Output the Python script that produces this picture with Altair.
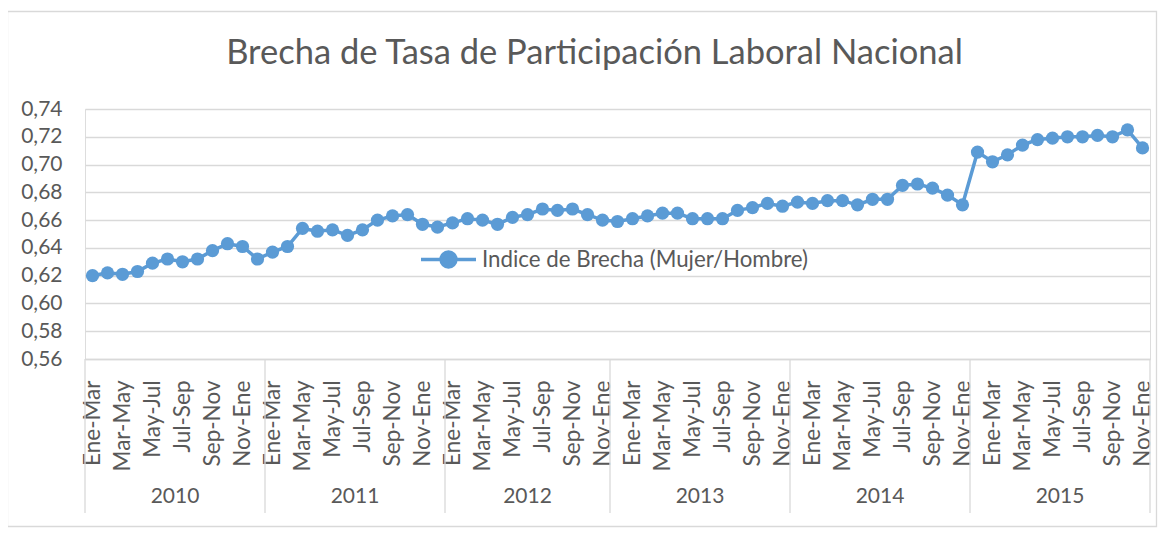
import altair as alt
import pandas as pd

# ---------------- data ----------------
anios = ["2010", "2011", "2012", "2013", "2014", "2015"]
periodos_2010 = ["Ene-Mar", "Feb-Abr", "Mar-May", "Abr-Jun", "May-Jul", "Jun-Ago",
                 "Jul-Sep", "Ago-Oct", "Sep-Nov", "Oct-Dic", "Nov-Ene", "Dic-Feb"]
periodos_2011 = ["Ene-Mar", "Feb-Abr", "Mar-May", "Abr-Jun", "May-Jul", "Jun-Ago",
                 "Jul-Sep", "Ago-Oct", "Sep-Nov", "Oct-Dic", "Nov-Ene", "Dic-Feb"]
periodos_2012 = ["Ene-Mar", "Feb-Abr", "Mar-May", "Abr-Jun", "May-Jul", "Jun-Ago",
                 "Jul-Sep", "Ago-Oct", "Sep-Nov", "Oct-Dic", "Nov-Ene"]
periodos_2013 = ["Dic-Feb", "Ene-Mar", "Feb-Abr", "Mar-May", "Abr-Jun", "May-Jul",
                 "Jun-Ago", "Jul-Sep", "Ago-Oct", "Sep-Nov", "Oct-Dic", "Nov-Ene"]
periodos_2014 = ["Dic-Feb", "Ene-Mar", "Feb-Abr", "Mar-May", "Abr-Jun", "May-Jul",
                 "Jun-Ago", "Jul-Sep", "Ago-Oct", "Sep-Nov", "Oct-Dic", "Nov-Ene"]
periodos_2015 = ["Dic-Feb", "Ene-Mar", "Feb-Abr", "Mar-May", "Abr-Jun", "May-Jul",
                 "Jun-Ago", "Jul-Sep", "Ago-Oct", "Sep-Nov", "Oct-Dic", "Nov-Ene"]

indice_2010 = [0.620, 0.622, 0.621, 0.623, 0.629, 0.632, 0.630, 0.632, 0.638, 0.643, 0.641, 0.632]
indice_2011 = [0.637, 0.641, 0.654, 0.652, 0.653, 0.649, 0.653, 0.660, 0.663, 0.664, 0.657, 0.655]
indice_2012 = [0.658, 0.661, 0.660, 0.657, 0.662, 0.664, 0.668, 0.667, 0.668, 0.664, 0.660]
indice_2013 = [0.659, 0.661, 0.663, 0.665, 0.665, 0.661, 0.661, 0.661, 0.667, 0.669, 0.672, 0.670]
indice_2014 = [0.673, 0.672, 0.674, 0.674, 0.671, 0.675, 0.675, 0.685, 0.686, 0.683, 0.678, 0.671]
indice_2015 = [0.709, 0.702, 0.707, 0.714, 0.718, 0.719, 0.720, 0.720, 0.721, 0.720, 0.725, 0.712]

y_ticks = [0.56, 0.58, 0.60, 0.62, 0.64, 0.66, 0.68, 0.70, 0.72, 0.74]
serie = "Indice de Brecha (Mujer/Hombre)"
titulo = "Brecha de Tasa de Participación Laboral Nacional"

# ---------------- tables ----------------
periodos = [periodos_2010, periodos_2011, periodos_2012, periodos_2013, periodos_2014, periodos_2015]
indices = [indice_2010, indice_2011, indice_2012, indice_2013, indice_2014, indice_2015]

rows = []
bounds = [-0.5]
centers = []
i = 0
for anio, per, val in zip(anios, periodos, indices):
    start = i
    for p, v in zip(per, val):
        rows.append({"idx": i, "periodo": p, "anio": anio, "valor": v, "serie": serie})
        i += 1
    bounds.append(i - 0.5)
    centers.append({"idx": (start + i - 1) / 2, "anio": anio})
df = pd.DataFrame(rows)
n = len(df)
df_bounds = pd.DataFrame({"idx": bounds})
df_centers = pd.DataFrame(centers)

all_labels = [r["periodo"] for r in rows]
label_js = "[" + ",".join("'" + s + "'" for s in all_labels) + "][datum.value]"
x_tick_vals = list(range(0, n, 2))

FONT = "Lato"
TXT = "#595959"
GRID = "#d9d9d9"
BLUE = "#5b9bd5"
W, H = 1065, 250

x_enc = alt.X(
    "idx:Q",
    scale=alt.Scale(domain=[-0.5, n - 0.5], nice=False, zero=False),
    axis=alt.Axis(
        values=x_tick_vals, labelExpr=label_js, labelAngle=270, ticks=False,
        domainColor=GRID, domainWidth=1.3, grid=False, labelPadding=21,
        labelFontSize=22.5, labelColor=TXT, labelFont=FONT, title=None,
        labelOverlap=False, labelFlush=False,
    ),
)
y_enc = alt.Y(
    "valor:Q",
    scale=alt.Scale(domain=[0.56, 0.74], nice=False, zero=False),
    axis=alt.Axis(
        values=y_ticks, labelExpr="replace(format(datum.value, '.2f'), '.', ',')",
        grid=True, gridColor=GRID, gridWidth=1.3, domain=False, ticks=False,
        labelPadding=23, labelFontSize=21, labelColor=TXT, labelFont=FONT, title=None,
    ),
)

legend_path = "M-1,0L1,0M0.27,0A0.27,0.27,0,1,1,-0.27,0A0.27,0.27,0,1,1,0.27,0Z"

line = alt.Chart(df).mark_line(strokeWidth=3.5).encode(
    x=x_enc, y=y_enc,
    color=alt.Color(
        "serie:N", scale=alt.Scale(range=[BLUE]),
        legend=alt.Legend(
            title=None, orient="none", legendX=334, legendY=121,
            symbolType=legend_path, symbolSize=3025, symbolStrokeWidth=3.5,
            symbolFillColor=BLUE, symbolStrokeColor=BLUE,
            labelFontSize=22.3, labelColor=TXT, labelFont=FONT, labelOffset=4,
            labelLimit=0, padding=0,
        ),
    ),
)
points = alt.Chart(df).mark_circle(size=175, opacity=1, color=BLUE).encode(x=x_enc, y=y_enc)

rules = alt.Chart(df_bounds).mark_rule(color=GRID, strokeWidth=1.3).encode(
    x=x_enc, y=alt.value(H), y2=alt.value(404)
)
years = alt.Chart(df_centers).mark_text(
    fontSize=21, color=TXT, font=FONT, baseline="middle", align="center"
).encode(x=x_enc, y=alt.value(388), text="anio:N")

border = alt.Chart(pd.DataFrame({"k": [0]})).mark_rect(
    filled=False, stroke=GRID, strokeWidth=1.3
).encode(x=alt.value(-77.5), x2=alt.value(1071.5), y=alt.value(-97.5), y2=alt.value(417.5))

chart = alt.layer(border, rules, years, line, points).properties(
    width=W, height=H,
    title=alt.TitleParams(
        titulo, font=FONT, fontSize=34.5, fontWeight="normal", color=TXT,
        anchor="middle", frame="group", dx=-23, offset=-88, baseline="alphabetic",
    ),
    autosize=alt.AutoSizeParams(type="none"),
    padding={"left": 77, "top": 101, "right": 8, "bottom": 169},
).configure_view(stroke=None).configure(background="white")

chart.save("out.html", embed_options={"renderer": "svg", "actions": False})
